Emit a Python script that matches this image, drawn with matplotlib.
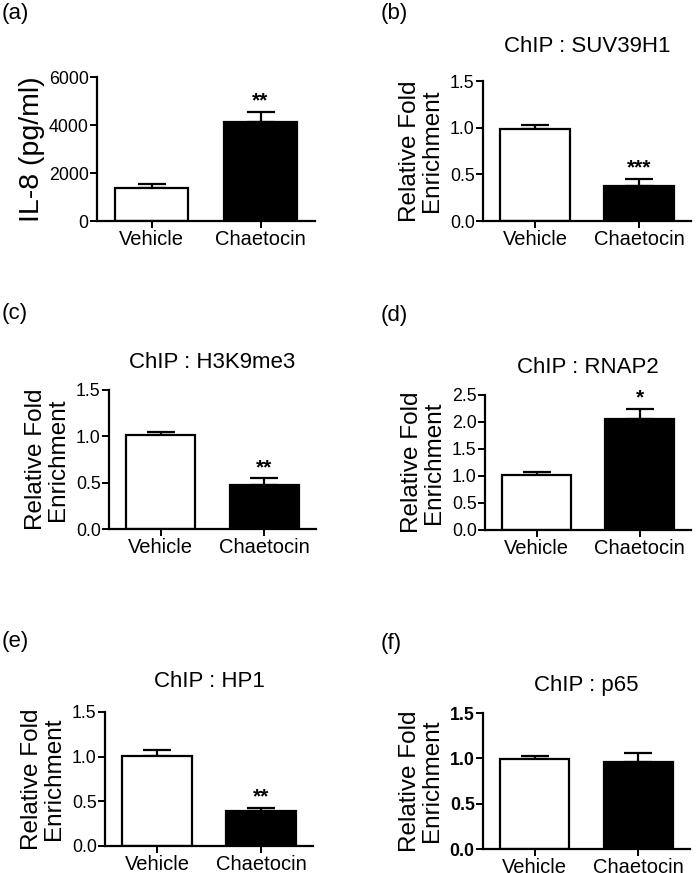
import matplotlib
matplotlib.use("Agg")
import matplotlib.pyplot as plt

plt.rcParams["font.family"] = ["Liberation Sans", "DejaVu Sans"]

groups = ["Vehicle", "Chaetocin"]
bar_colors = ["white", "black"]

il8_mean = [1380, 4120]
il8_err = [170, 420]
suv_mean = [0.99, 0.38]
suv_err = [0.04, 0.07]
h3k9_mean = [1.01, 0.48]
h3k9_err = [0.035, 0.065]
rnap2_mean = [1.01, 2.06]
rnap2_err = [0.06, 0.19]
hp1_mean = [1.01, 0.39]
hp1_err = [0.065, 0.035]
p65_mean = [0.99, 0.96]
p65_err = [0.04, 0.095]

W, H = 697, 873
fig = plt.figure(figsize=(W / 100, H / 100), dpi=100)


def px_axes(left, right, top, bottom):
    return fig.add_axes([left / W, 1 - bottom / H, (right - left) / W, (bottom - top) / H])


panels = [
    # letter, label pos, axes px box, mean, err, stars, ylim, yticks, fmt, ylabel, title, title pad, bold ticks
    ("(a)", (2, 14), (97, 315, 77, 221), il8_mean, il8_err, ["", "**"],
     6000, [0, 2000, 4000, 6000], "{:.0f}", "IL-8 (pg/ml)", None, 0, False),
    ("(b)", (381, 14), (483, 691, 81, 221), suv_mean, suv_err, ["", "***"],
     1.5, [0, 0.5, 1.0, 1.5], "{:.1f}", "Relative Fold\nEnrichment", "ChIP : SUV39H1", 21, False),
    ("(c)", (2, 313), (109, 316, 390, 529), h3k9_mean, h3k9_err, ["", "**"],
     1.5, [0, 0.5, 1.0, 1.5], "{:.1f}", "Relative Fold\nEnrichment", "ChIP : H3K9me3", 16, False),
    ("(d)", (381, 315), (485, 691, 395, 530), rnap2_mean, rnap2_err, ["", "*"],
     2.5, [0, 0.5, 1.0, 1.5, 2.0, 2.5], "{:.1f}", "Relative Fold\nEnrichment", "ChIP : RNAP2", 16, False),
    ("(e)", (2, 642), (105, 313, 712, 846), hp1_mean, hp1_err, ["", "**"],
     1.5, [0, 0.5, 1.0, 1.5], "{:.1f}", "Relative Fold\nEnrichment", "ChIP : HP1", 18, False),
    ("(f)", (381, 643), (483, 690, 713, 849), p65_mean, p65_err, ["", ""],
     1.5, [0, 0.5, 1.0, 1.5], "{:.1f}", "Relative Fold\nEnrichment", "ChIP : p65", 16, True),
]

for (letter, lpos, box, mean, err, stars, ymax, yticks, fmt,
     ylabel, title, tpad, bold) in panels:
    ax = px_axes(*box)
    x = [0, 1]
    ax.bar(x, mean, width=0.67, color=bar_colors, edgecolor="black", linewidth=1.6, zorder=2)
    ax.errorbar(x, mean, yerr=[[0, 0], err], fmt="none", ecolor="black",
                elinewidth=1.6, capsize=10, capthick=1.6, zorder=1)
    for xi, m, e, s in zip(x, mean, err, stars):
        if s:
            ax.annotate(s, (xi, m + e), xytext=(0, 1), textcoords="offset points",
                        ha="center", va="bottom", fontsize=15, fontweight="bold")
    ax.set_xlim(-0.5, 1.5)
    ax.set_ylim(0, ymax)
    ax.set_xticks(x)
    ax.set_xticklabels(groups, fontsize=14.5)
    ax.set_yticks(yticks)
    ax.set_yticklabels([fmt.format(v) for v in yticks], fontsize=12.8,
                       fontweight="bold" if bold else "normal")
    for side in ["top", "right"]:
        ax.spines[side].set_visible(False)
    for side in ["left", "bottom"]:
        ax.spines[side].set_linewidth(1.6)
    ax.tick_params(width=1.4, length=5)
    ax.tick_params(axis="y", pad=1)
    ax.tick_params(axis="x", pad=1.5)
    if title:
        ax.set_title(title, fontsize=16, pad=tpad)
        ax.set_ylabel(ylabel, fontsize=17.5, labelpad=5, linespacing=1.0)
    else:
        ax.set_ylabel(ylabel, fontsize=20.5, labelpad=3)
    fig.text(lpos[0] / W, 1 - lpos[1] / H, letter, fontsize=16, ha="left", va="center")

fig.savefig("out.png", dpi=100)
